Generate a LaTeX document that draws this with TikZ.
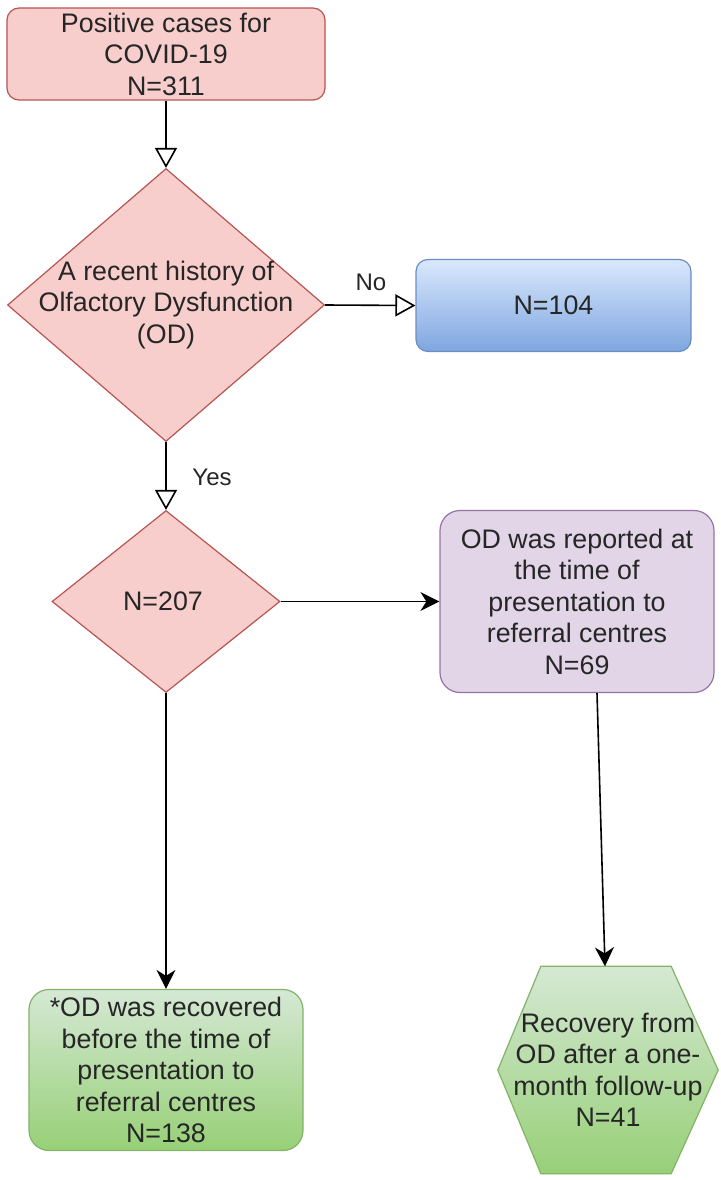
\documentclass[tikz,border=0pt]{standalone}
\usepackage{fontspec}
\setmainfont{Liberation Sans}
\usetikzlibrary{shapes.geometric,arrows.meta,calc,backgrounds}
\definecolor{pinkfill}{HTML}{F8CECC}
\definecolor{pinkline}{HTML}{B85450}
\definecolor{bluetop}{HTML}{DAE8FC}
\definecolor{bluebot}{HTML}{7EA6E0}
\definecolor{blueline}{HTML}{6C8EBF}
\definecolor{purplefill}{HTML}{E1D5E7}
\definecolor{purpleline}{HTML}{9673A6}
\definecolor{greentop}{HTML}{D5E8D4}
\definecolor{greenbot}{HTML}{97D077}
\definecolor{greenline}{HTML}{82B366}
\begin{document}
\begin{tikzpicture}[x=1pt,y=-1pt,
  every node/.style={font=\fontsize{26.8}{31.5}\selectfont, align=center, inner sep=0pt, text=black!85},
  pinkbox/.style={rectangle, rounded corners=12pt, fill=pinkfill, draw=pinkline, line width=1.2pt},
  pinkdiamond/.style={diamond, fill=pinkfill, draw=pinkline, line width=1.2pt},
  bluebox/.style={rectangle, rounded corners=12pt, top color=bluetop, bottom color=bluebot, draw=blueline, line width=1.2pt},
  purplebox/.style={rectangle, rounded corners=20pt, fill=purplefill, draw=purpleline, line width=1.2pt},
  greenbox/.style={rectangle, rounded corners=20pt, top color=greentop, bottom color=greenbot, draw=greenline, line width=1.2pt},
  hexnode/.style={rectangle, minimum width=220pt, minimum height=207pt},
  openarr/.style={line width=1.6pt, -{Triangle[open, length=20pt, width=22pt, line width=1.6pt]}},
  fillarr/.style={line width=1.6pt, -{Stealth[length=19pt, width=19pt, inset=6pt]}},
  lbl/.style={font=\fontsize{24}{28}\selectfont}
]
\useasboundingbox (0,0) rectangle (720,1180);

\node[pinkbox, minimum width=318pt, minimum height=92pt] (top) at (166,54) {Positive cases for\\COVID-19\\N=311};
\node[pinkdiamond, minimum width=317pt, minimum height=273pt] (d1) at (166,305) {};
\node (d1text) at (166,305) {A recent history of\\Olfactory Dysfunction\\(OD)};
\node[bluebox, minimum width=275pt, minimum height=92pt] (blue) at (553.5,305.5) {N=104};
\node[pinkdiamond, minimum width=228pt, minimum height=182pt] (d2) at (166,601.5) {};
\node (d2text) at (163,601.5) {N=207};
\node[purplebox, minimum width=274pt, minimum height=182pt] (purple) at (577,601.5) {OD was reported at\\the time of\\presentation to\\referral centres\\N=69};
\node[greenbox, minimum width=274pt, minimum height=161pt] (green) at (166,1070) {*OD was recovered\\before the time of\\presentation to\\referral centres\\N=138};
\node[hexnode] (hex) at (608,1070) {Recovery from\\OD after a one-\\month follow-up\\N=41};
\begin{pgfonlayer}{background}
\path[top color=greentop, bottom color=greenbot, draw=greenline, line width=1.2pt]
  (hex.west) -- ($(hex.north west)+(43,0)$) -- ($(hex.north east)+(-47,0)$) -- (hex.east)
  -- ($(hex.south east)+(-47,0)$) -- ($(hex.south west)+(43,0)$) -- cycle;
\end{pgfonlayer}

\node[lbl] (no) at (371,282) {No};
\node[lbl] (yes) at (212,477) {Yes};

\draw[openarr] (top.south) -- (d1.north);
\draw[openarr] (d1.east) -- (blue.west);
\draw[openarr] (d1.south) -- (d2.north);
\draw[fillarr] (d2.east) -- (purple.west);
\draw[fillarr] (d2.south) -- (green.north);
\draw[fillarr] ($(purple.south)+(20,0)$) -- ($(hex.north)+(-3,0)$);
\end{tikzpicture}
\end{document}
